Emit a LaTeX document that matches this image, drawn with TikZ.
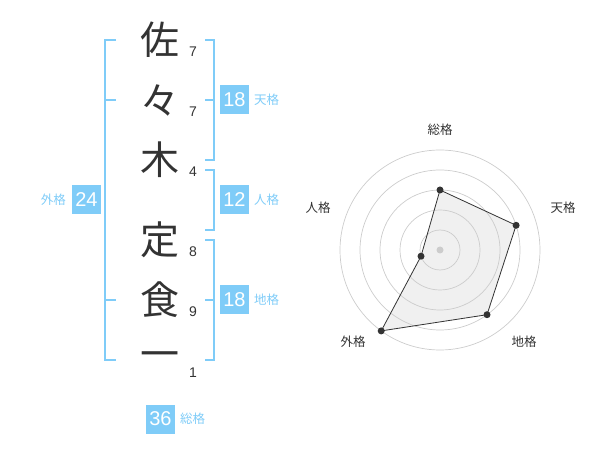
\documentclass[tikz,border=0pt]{standalone}
\usepackage{fontspec}
\setmainfont{Liberation Sans}
\newfontfamily\jp{Noto Sans CJK JP}
\definecolor{lblue}{HTML}{7FCCF8}
\definecolor{dgray}{HTML}{333333}
\definecolor{rgrid}{HTML}{CCCCCC}
\tikzset{
  brk/.style={draw=lblue, line width=2pt},
  kanji/.style={font=\jp\fontsize{39}{39}\selectfont, text=dgray, inner sep=0pt},
  stroke/.style={font=\fontsize{14}{14}\selectfont, text=dgray, inner sep=0pt},
  numbox/.style={fill=lblue, text=white, minimum width=29pt, minimum height=29pt, inner sep=0pt, font=\fontsize{20}{20}\selectfont},
  kaku/.style={text=lblue, inner sep=0pt, font=\jp\fontsize{12.5}{12.5}\selectfont},
  rlabel/.style={text=dgray, inner sep=0pt, font=\jp\fontsize{12.5}{12.5}\selectfont},
  rdot/.style={circle, fill=dgray, inner sep=0pt, minimum size=7pt},
}
\begin{document}
\begin{tikzpicture}[x=1pt, y=-1pt]
\useasboundingbox (0,0) rectangle (600,470);
% kanji
\node[kanji] (k1) at (160,40) {佐};
\node[kanji] (k2) at (160,100) {々};
\node[kanji] (k3) at (160,160) {木};
\node[kanji] (k4) at (160,240) {定};
\node[kanji] (k5) at (160,300) {食};
\node[kanji] (k6) at (160,360) {一};
% stroke counts
\node[stroke] (s1) at (193,52) {7};
\node[stroke] (s2) at (193,112) {7};
\node[stroke] (s3) at (193,172) {4};
\node[stroke] (s4) at (193,252) {8};
\node[stroke] (s5) at (193,312) {9};
\node[stroke] (s6) at (193,373) {1};
% left bracket (gaikaku)
\draw[brk] (116,40) -- (105,40) -- (105,360) -- (116,360);
\draw[brk] (105,100) -- (116,100);
\draw[brk] (105,300) -- (116,300);
% right brackets
\draw[brk] (205,40) -- (214,40) -- (214,160) -- (205,160);
\draw[brk] (205,100) -- (214,100);
\draw[brk] (205,170) -- (214,170) -- (214,230) -- (205,230);
\draw[brk] (205,240) -- (214,240) -- (214,360) -- (205,360);
\draw[brk] (205,300) -- (214,300);
% number boxes
\node[numbox] (b1) at (234.5,100) {18};
\node[kaku, anchor=west] (l1) at (254,100) {天格};
\node[numbox] (b2) at (234.5,200) {12};
\node[kaku, anchor=west] (l2) at (254,200) {人格};
\node[numbox] (b3) at (234.5,300) {18};
\node[kaku, anchor=west] (l3) at (254,300) {地格};
\node[numbox] (b4) at (86.5,200) {24};
\node[kaku, anchor=east] (l4) at (66,200) {外格};
\node[numbox] (b5) at (160.5,419) {36};
\node[kaku, anchor=west] (l5) at (180,419) {総格};
% radar chart
\coordinate (c) at (440,250);
\path (c) ++(0,-60) coordinate (pS)
      (c) ++(76.1,-24.7) coordinate (pT)
      (c) ++(47.0,64.7) coordinate (pC)
      (c) ++(-58.8,80.9) coordinate (pG)
      (c) ++(-19.0,6.2) coordinate (pJ);
\fill[black!6] (pS) -- (pT) -- (pC) -- (pG) -- (pJ) -- cycle;
\foreach \r in {20,40,60,80,100}
  \draw[rgrid, line width=0.7pt] (c) circle[radius=\r];
\fill[rgrid] (c) circle[radius=3.5];
\draw[dgray, line width=0.8pt, line join=round] (pS) -- (pT) -- (pC) -- (pG) -- (pJ) -- cycle;
\foreach \p in {pS,pT,pC,pG,pJ} \node[rdot] at (\p) {};
\node[rlabel] (rS) at (440,130) {総格};
\node[rlabel] (rT) at (563,208) {天格};
\node[rlabel] (rC) at (524,342) {地格};
\node[rlabel] (rG) at (353,342) {外格};
\node[rlabel] (rJ) at (318,208) {人格};
\end{tikzpicture}
\end{document}
